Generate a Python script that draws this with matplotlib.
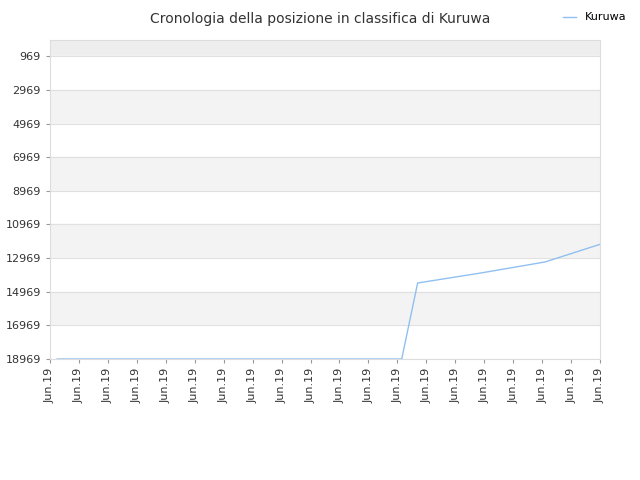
import matplotlib
matplotlib.use("Agg")
import matplotlib.pyplot as plt

x_pos = [0.25, 12.15, 12.7, 14.9, 17.1, 19.0]
ranks = [18969, 18969, 14450, 13850, 13200, 12150]
tick_labels = ["Jun.19"] * 20
yticks = [969, 2969, 4969, 6969, 8969, 10969, 12969, 14969, 16969, 18969]

fig = plt.figure(figsize=(6.4, 4.8), dpi=100)
ax = fig.add_axes([50/640, 1-359/480, 550/640, 319/480])
ax.set_xlim(0, 19)
ax.set_ylim(18969, 0)
# bands
ax.axhspan(0, 969, color="#eeeeee", zorder=0)
for i in range(len(yticks)-1):
    if i % 2 == 0:
        ax.axhspan(yticks[i], yticks[i+1], color="white", zorder=0)
    else:
        ax.axhspan(yticks[i], yticks[i+1], color="#f3f3f3", zorder=0)
for y in yticks:
    ax.axhline(y, color="#e0e0e0", lw=0.8, zorder=1)
ax.plot(x_pos, ranks, color="#90c0f0", lw=1, label="Kuruwa", zorder=3)
ax.set_yticks(yticks)
ax.set_yticklabels([str(v) for v in yticks], fontsize=8, color="#333333")
ax.set_xticks(range(20))
ax.set_xticklabels(tick_labels, rotation=90, fontsize=8, color="#333333")
for s in ax.spines.values():
    s.set_color("#dddddd")
ax.tick_params(colors="#999999", labelcolor="#333333", length=3)
fig.text(0.5, 0.975, "Cronologia della posizione in classifica di Kuruwa", ha="center", va="top", fontsize=10, color="#333333")
fig.legend(loc="upper right", bbox_to_anchor=(0.995, 0.995), frameon=False, fontsize=8, handlelength=1.2)
fig.savefig("out.png", dpi=100)
